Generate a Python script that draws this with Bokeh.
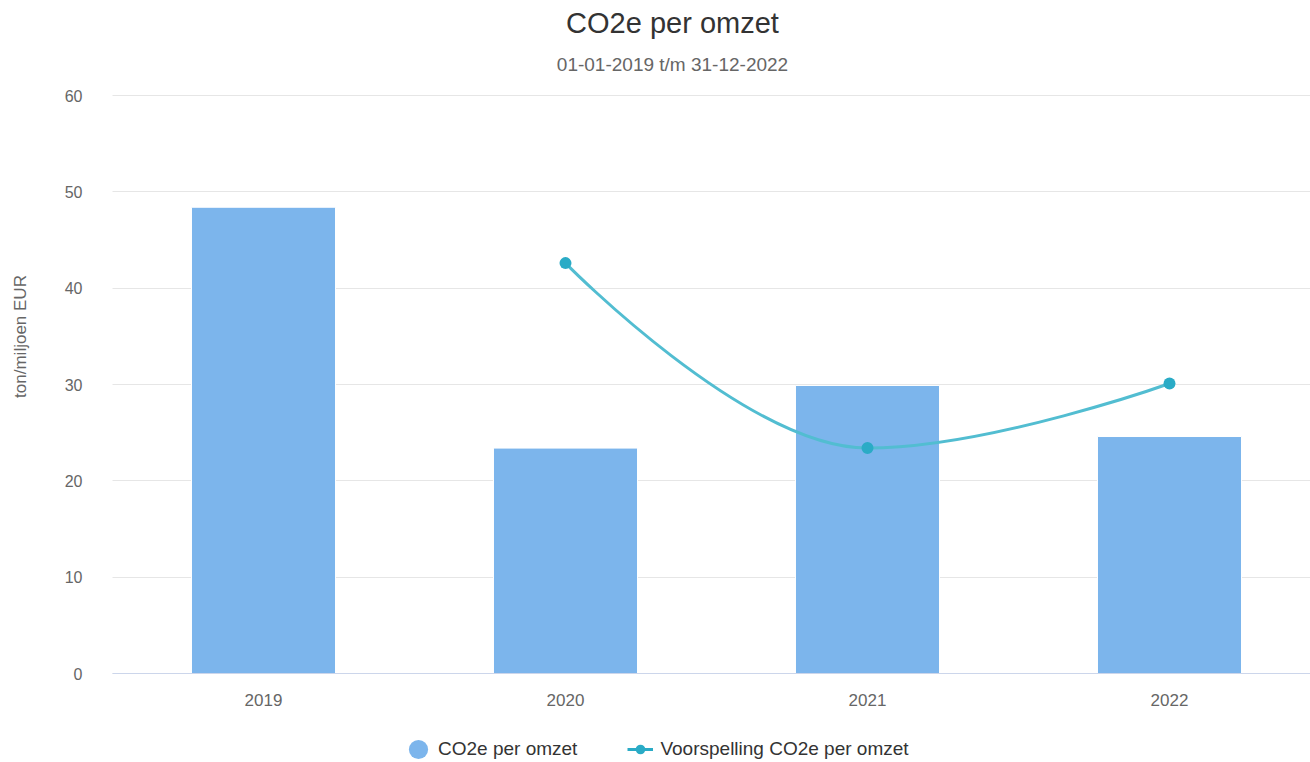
from bokeh.plotting import figure
from bokeh.models import (Range1d, FixedTicker, Label, Legend, LegendItem,
                          ColumnDataSource)
from bokeh.embed import file_html
from bokeh.resources import INLINE
import math

# ---- data ----
years = ["2019", "2020", "2021", "2022"]
co2e_per_omzet = [48.4, 23.4, 29.9, 24.6]
forecast_years = ["2020", "2021", "2022"]
forecast_values = [42.6, 23.4, 30.1]
y_ticks = [0, 10, 20, 30, 40, 50, 60]

FONT = "Liberation Sans"
BAR_COLOR = "#7cb5ec"
LINE_COLOR = "#52bdd1"
MARKER_COLOR = "#2aabc6"

# ---- layout constants (pixels) ----
W, H = 1310, 762
LEFT = 112                      # plot area left edge
Y_TOP_PX, Y_ZERO_PX = 95, 673   # pixel rows of y=60 and y=0
Y_MAX = 60
SLOT = 302.0                    # pixels per category

x_idx = list(range(len(years)))
fx = [years.index(y) for y in forecast_years]


def spline_segments(xs, ys, smoothing=1.5):
    """Highcharts-style spline: cubic bezier control points per segment."""
    n = len(xs)
    denom = smoothing + 1
    left = [(x, y) for x, y in zip(xs, ys)]
    right = [(x, y) for x, y in zip(xs, ys)]
    for i in range(1, n - 1):
        px, py = xs[i], ys[i]
        lx, ly = xs[i - 1], ys[i - 1]
        nx, ny = xs[i + 1], ys[i + 1]
        lcx = (smoothing * px + lx) / denom
        lcy = (smoothing * py + ly) / denom
        rcx = (smoothing * px + nx) / denom
        rcy = (smoothing * py + ny) / denom
        if rcx != lcx:
            corr = (rcy - lcy) * (rcx - px) / (rcx - lcx) + py - rcy
            lcy += corr
            rcy += corr
        if lcy > ly and lcy > py:
            lcy = max(ly, py); rcy = 2 * py - lcy
        elif lcy < ly and lcy < py:
            lcy = min(ly, py); rcy = 2 * py - lcy
        if rcy > ny and rcy > py:
            rcy = max(ny, py); lcy = 2 * py - rcy
        elif rcy < ny and rcy < py:
            rcy = min(ny, py); lcy = 2 * py - rcy
        left[i] = (lcx, lcy)
        right[i] = (rcx, rcy)
    seg = dict(x0=[], y0=[], x1=[], y1=[], cx0=[], cy0=[], cx1=[], cy1=[])
    for i in range(1, n):
        seg["x0"].append(xs[i - 1]); seg["y0"].append(ys[i - 1])
        seg["x1"].append(xs[i]); seg["y1"].append(ys[i])
        seg["cx0"].append(right[i - 1][0]); seg["cy0"].append(right[i - 1][1])
        seg["cx1"].append(left[i][0]); seg["cy1"].append(left[i][1])
    return seg


px_per_unit = (Y_ZERO_PX - Y_TOP_PX) / Y_MAX
y_start = -(H - Y_ZERO_PX) / px_per_unit
y_end = Y_ZERO_PX / px_per_unit
x_start = -0.5 - LEFT / SLOT
x_end = -0.5 + (W - LEFT) / SLOT

p = figure(width=W, height=H,
           x_range=Range1d(x_start, x_end), y_range=Range1d(y_start, y_end),
           output_backend="svg", toolbar_location=None, title=None)
p.min_border_left = 0
p.min_border_right = 0
p.min_border_top = 0
p.min_border_bottom = 0
p.outline_line_color = None
p.background_fill_color = "white"
p.border_fill_color = "white"

# titles (screen units, relative to frame bottom-left)
p.add_layout(Label(x=672, y=H - 22, x_units="screen", y_units="screen",
                   text="CO2e per omzet", text_align="center",
                   text_baseline="middle", text_font_size="29px",
                   text_color="#333333", text_font=FONT))
p.add_layout(Label(x=672, y=H - 64, x_units="screen", y_units="screen",
                   text="01-01-2019 t/m 31-12-2022", text_align="center",
                   text_baseline="middle", text_font_size="19px",
                   text_color="#666666", text_font=FONT))
p.add_layout(Label(x=20, y=H - 336, x_units="screen", y_units="screen",
                   text="ton/miljoen EUR", text_align="center",
                   text_baseline="middle", angle=math.pi / 2,
                   text_font_size="17px", text_color="#666666",
                   text_font=FONT))

# y axis at the plot-area left edge
p.yaxis.fixed_location = -0.5
p.yaxis.ticker = FixedTicker(ticks=y_ticks)
p.yaxis.axis_line_color = None
p.yaxis.major_tick_line_color = None
p.yaxis.minor_tick_line_color = None
p.yaxis.major_label_text_font_size = "16px"
p.yaxis.major_label_text_color = "#666666"
p.yaxis.major_label_text_font = FONT
p.yaxis.major_label_standoff = 24

# x axis at y = 0
p.xaxis.fixed_location = 0
p.xaxis.bounds = (-0.5, x_end)
p.xaxis.ticker = FixedTicker(ticks=x_idx)
p.xaxis.major_label_overrides = {i: y for i, y in zip(x_idx, years)}
p.xaxis.axis_line_color = "#ccd6eb"
p.xaxis.major_tick_line_color = None
p.xaxis.minor_tick_line_color = None
p.xaxis.major_label_text_font_size = "17px"
p.xaxis.major_label_text_color = "#666666"
p.xaxis.major_label_text_font = FONT
p.xaxis.major_label_standoff = 14

p.xgrid.grid_line_color = None
p.ygrid.ticker = FixedTicker(ticks=y_ticks)
p.ygrid.cross_bounds = (-0.5, x_end)
p.ygrid.grid_line_color = "#e6e6e6"

# bars
bar_src = ColumnDataSource(dict(x=x_idx, top=co2e_per_omzet))
p.vbar(x="x", top="top", bottom=0, width=0.477, source=bar_src,
       fill_color=BAR_COLOR, line_color="white", line_width=1)

# spline forecast
seg = spline_segments([float(v) for v in fx], forecast_values)
p.bezier(x0="x0", y0="y0", x1="x1", y1="y1", cx0="cx0", cy0="cy0",
         cx1="cx1", cy1="cy1", source=ColumnDataSource(seg),
         line_color=LINE_COLOR, line_width=3)
markers = p.scatter(fx, forecast_values, size=12, marker="circle",
                    fill_color=MARKER_COLOR, line_color=None)

# legend helpers (not visible in the plot area)
nan = float("nan")
bar_leg = p.ellipse(x=[nan], y=[nan], width=1, height=1,
                    width_units="screen", height_units="screen",
                    fill_color=BAR_COLOR, line_color=None)
line_leg = p.line(x=[nan, nan], y=[nan, nan], line_color=MARKER_COLOR,
                  line_width=3)

legend = Legend(items=[LegendItem(label="CO2e per omzet", renderers=[bar_leg]),
                       LegendItem(label="Voorspelling CO2e per omzet",
                                  renderers=[line_leg, markers])],
                location=(405, H - 761), orientation="horizontal",
                glyph_width=26, glyph_height=24, label_standoff=7,
                spacing=50, padding=0, margin=0,
                border_line_color=None, background_fill_alpha=0,
                label_text_font_size="19px", label_text_color="#333333",
                label_text_font=FONT)
p.add_layout(legend, "center")

open("out.html", "w").write(file_html(p, INLINE))
